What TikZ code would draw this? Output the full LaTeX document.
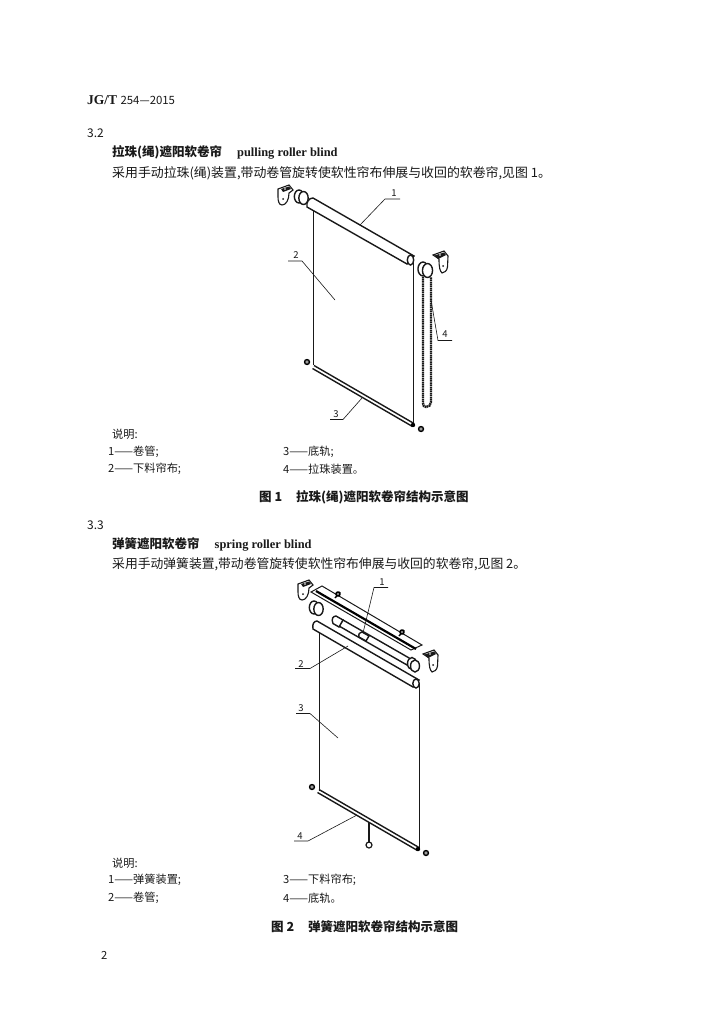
\documentclass[tikz,border=0pt]{standalone}
\usepackage{fontspec}
\setmainfont{Liberation Serif}
\newfontfamily\cjk{Noto Sans CJK SC}
\definecolor{ink}{gray}{0.1}
\tikzset{
  txt/.style={anchor=west,inner sep=0pt,text=ink,font=\cjk\fontsize{11.2}{13}\selectfont},
  body/.style={anchor=west,inner sep=0pt,text=ink,font=\cjk\fontsize{12.8}{14}\selectfont},
  head/.style={anchor=west,inner sep=0pt,text=ink,font=\cjk\bfseries\fontsize{12.5}{14}\selectfont},
  lab/.style={inner sep=0pt,text=ink,font=\cjk\fontsize{9.5}{10}\selectfont},
  leader/.style={draw=ink,line width=0.6pt},
  thin line/.style={draw=ink,line width=0.8pt},
  thick line/.style={draw=ink,line width=1.4pt},
}
\newcommand{\bracketL}[2]{%
  \draw[thin line,fill=white,line width=1.1pt] (#1,#2+4) -- (#1+11,#2) -- (#1+15,#2+5) -- (#1+11,#2+8)
     .. controls (#1+11,#2+15) and (#1+8,#2+20) .. (#1+4,#2+20)
     .. controls (#1+1,#2+20) and (#1,#2+16) .. (#1,#2+12) -- cycle;
  \fill[ink] (#1+3,#2+4) -- (#1+11,#2+1.5) -- (#1+13,#2+4) -- (#1+5,#2+7) -- cycle;
  \fill[white] (#1+7,#2+4) circle (0.8);
  \fill[ink] (#1+5,#2+14) circle (1);
}
\newcommand{\bracketR}[2]{%
  \draw[thin line,fill=white,line width=1.1pt] (#1,#2+4) -- (#1+11,#2) -- (#1+15,#2+5)
     -- (#1+14.5,#2+16)
     .. controls (#1+14,#2+20) and (#1+11,#2+22) .. (#1+9,#2+22)
     .. controls (#1+7,#2+20) and (#1+6,#2+17) .. (#1+6,#2+8) -- cycle;
  \fill[ink] (#1+1.5,#2+4.5) -- (#1+11,#2+1.5) -- (#1+13,#2+4) -- (#1+5,#2+8) -- cycle;
  \fill[white] (#1+7,#2+4) circle (0.8);
  \fill[ink] (#1+10,#2+15) circle (1);
}
\newcommand{\rollcap}[3]{%
  \draw[thick line,fill=white] (#1,#2) ellipse ({#3*0.72} and #3);
  \draw[thick line,fill=white] (#1+4.5,#2+1.5) ellipse ({#3*0.72} and #3);
}
\newcommand{\stud}[2]{%
  \draw[draw=black,line width=1.3pt,fill=gray] (#1,#2) circle (2.5);
  \fill[white] (#1,#2) circle (0.7);
}
\begin{document}
\begin{tikzpicture}[x=1pt,y=-1pt]
\useasboundingbox (0,0) rectangle (725,1024);
\fill[white] (0,0) rectangle (725,1024);

% ---------- text ----------
\node[anchor=west,inner sep=0pt,text=ink] (hdr) at (87,100) {\fontsize{13.5}{15}\selectfont\textbf{JG/T} \cjk\fontsize{11.4}{13}\selectfont 254—2015};
\node[txt] (s32) at (87,133) {\fontsize{12}{13}\selectfont 3.2};
\node[head] (t32) at (112,152.5) {拉珠(绳)遮阳软卷帘\hspace{15pt}{\rmfamily\bfseries\fontsize{12.4}{14}\selectfont pulling roller blind}};
\node[body] (b32) at (112,173) {\fontsize{12.9}{14}\selectfont 采用手动拉珠(绳)装置,带动卷管旋转使软性帘布伸展与收回的软卷帘,见图 1。};
\node[txt] (k1) at (112,434) {说明:};
\node[txt] (k11) at (108,452) {1——卷管;};
\node[txt] (k12) at (108,469) {2——下料帘布;};
\node[txt] (k13) at (283,452) {3——底轨;};
\node[txt] (k14) at (283,469) {4——拉珠装置。};
\node[head] (c1) at (259,497) {图 1\hspace{14pt}拉珠(绳)遮阳软卷帘结构示意图};
\node[txt] (s33) at (87,525) {\fontsize{12}{13}\selectfont 3.3};
\node[head] (t33) at (112,544.5) {弹簧遮阳软卷帘\hspace{15pt}{\rmfamily\bfseries\fontsize{12.4}{14}\selectfont spring roller blind}};
\node[body] (b33) at (112,564.5) {采用手动弹簧装置,带动卷管旋转使软性帘布伸展与收回的软卷帘,见图 2。};
\node[txt] (k2) at (112,863) {说明:};
\node[txt] (k21) at (108,880) {1——弹簧装置;};
\node[txt] (k22) at (108,898) {2——卷管;};
\node[txt] (k23) at (283,880) {3——下料帘布;};
\node[txt] (k24) at (283,898) {4——底轨。};
\node[head] (c2) at (271,927) {图 2\hspace{14pt}弹簧遮阳软卷帘结构示意图};
\node[txt] (pg) at (101,955) {2};

% ---------- figure 1 ----------
\bracketL{278}{185}
\rollcap{299}{196.5}{6.5}
\draw[thin line] (313,204) -- (313,365);
\draw[thick line] (413.5,258) -- (413.5,424);
\draw[thick line,fill=white] (313,198) -- (414,256) -- (407,264) -- (307,207)
   .. controls (306,202) and (309,198) .. (313,198) -- cycle;
\draw[thick line,fill=white] (410.5,260) ellipse (3.2 and 5);
\draw[thick line] (314,365.5) -- (414,423.5);
\draw[thick line] (312.5,368.5) -- (412.5,426.5);
\fill (413,425) circle (2.2);
\stud{307}{362}
\stud{421}{429}
\bracketR{433}{251}
\rollcap{423}{269}{7}
\draw[draw=ink,line width=2.3pt,dash pattern=on 1.5pt off 0.6pt]
   (423,277) -- (423,402) .. controls (423,406) and (424,407) .. (426,407)
   .. controls (429,407) and (431,405) .. (431,402) -- (431,277);
\node[lab] (n1) at (394,193) {1};
\coordinate (a1) at (400,199); \coordinate (b1) at (385,199); \coordinate (c1t) at (360,225);
\draw[leader] (a1) -- (b1) -- (c1t);
\node[lab] (n2) at (296,255) {2};
\coordinate (a2) at (288,261); \coordinate (b2) at (302,261); \coordinate (c2t) at (335,300);
\draw[leader] (a2) -- (b2) -- (c2t);
\node[lab] (n3) at (336,414) {3};
\coordinate (a3) at (330,419.5); \coordinate (b3) at (343,419.5); \coordinate (c3t) at (362,398);
\draw[leader] (a3) -- (b3) -- (c3t);
\node[lab] (n4) at (445,334) {4};
\coordinate (a4) at (452,340.5); \coordinate (b4) at (438,340.5); \coordinate (c4t) at (431,300);
\draw[leader] (a4) -- (b4) -- (c4t);

% ---------- figure 2 ----------
\bracketL{298}{580}
\draw[thin line,line width=1pt,fill=white] (311,592) -- (322,586) -- (422,645) -- (411,650) -- cycle;
\draw[draw=black,line width=2.2pt] (316,591) -- (416,649);
\foreach \x/\y in {338/594,402/632}{
  \draw[draw=black,line width=1.4pt] (\x-3,\y+4) -- (\x+2,\y-2);
  \fill[black] (\x,\y) circle (2.8);
  \fill[white] (\x,\y) circle (0.8);
}
\rollcap{314}{607.5}{6.5}
% spring tube with its head
\draw[thick line,fill=white] (343,620) -- (410,658.5) -- (407,665) -- (339,626) -- cycle;
\draw[thick line,fill=white] (336,616) -- (343,620) -- (339,627) -- (333,623.5)
   .. controls (331,619) and (333,616) .. (336,616) -- cycle;
\draw[thick line,fill=white] (362,632) -- (369,636) -- (366,641) -- (359,637)
   .. controls (358,634) and (360,632) .. (362,632) -- cycle;
\draw[thick line,fill=white] (412,663.5) ellipse (4.5 and 6);
\draw[thick line,fill=white] (415,666) ellipse (4.5 and 6);
\bracketR{423}{650}
\draw[thin line,line width=1pt] (319,630) -- (319,791);
\draw[thin line] (419,684) -- (419,848);
\draw[thick line,fill=white] (317,621) -- (419,680) -- (413,687) -- (313,629)
   .. controls (312,624) and (314,621) .. (317,621) -- cycle;
\draw[thick line,fill=white] (416,683.5) ellipse (3.2 and 4.5);
\draw[thick line] (319,789.5) -- (419,847.5);
\draw[thick line] (317.5,792.5) -- (417.5,850.5);
\fill (418,849) circle (2.2);
\stud{312}{787}
\stud{426}{853}
\draw[draw=ink,line width=1.8pt] (369,822) -- (369,842);
\draw[thin line,line width=1.2pt,fill=white] (369,845) circle (3);
\node[lab] (m1) at (382,582) {1};
\coordinate (e1) at (388,587.5); \coordinate (f1) at (374,587.5); \coordinate (g1) at (363,633);
\draw[leader] (e1) -- (f1) -- (g1);
\node[lab] (m2) at (301,664) {2};
\coordinate (e2) at (295,668.5); \coordinate (f2) at (310,668.5); \coordinate (g2) at (348,646);
\draw[leader] (e2) -- (f2) -- (g2);
\node[lab] (m3) at (301,708) {3};
\coordinate (e3) at (296,713.5); \coordinate (f3) at (310,713.5); \coordinate (g3) at (338,738);
\draw[leader] (e3) -- (f3) -- (g3);
\node[lab] (m4) at (300,836) {4};
\coordinate (e4) at (294,841); \coordinate (f4) at (308,841); \coordinate (g4) at (357,815);
\draw[leader] (e4) -- (f4) -- (g4);
\end{tikzpicture}
\end{document}
